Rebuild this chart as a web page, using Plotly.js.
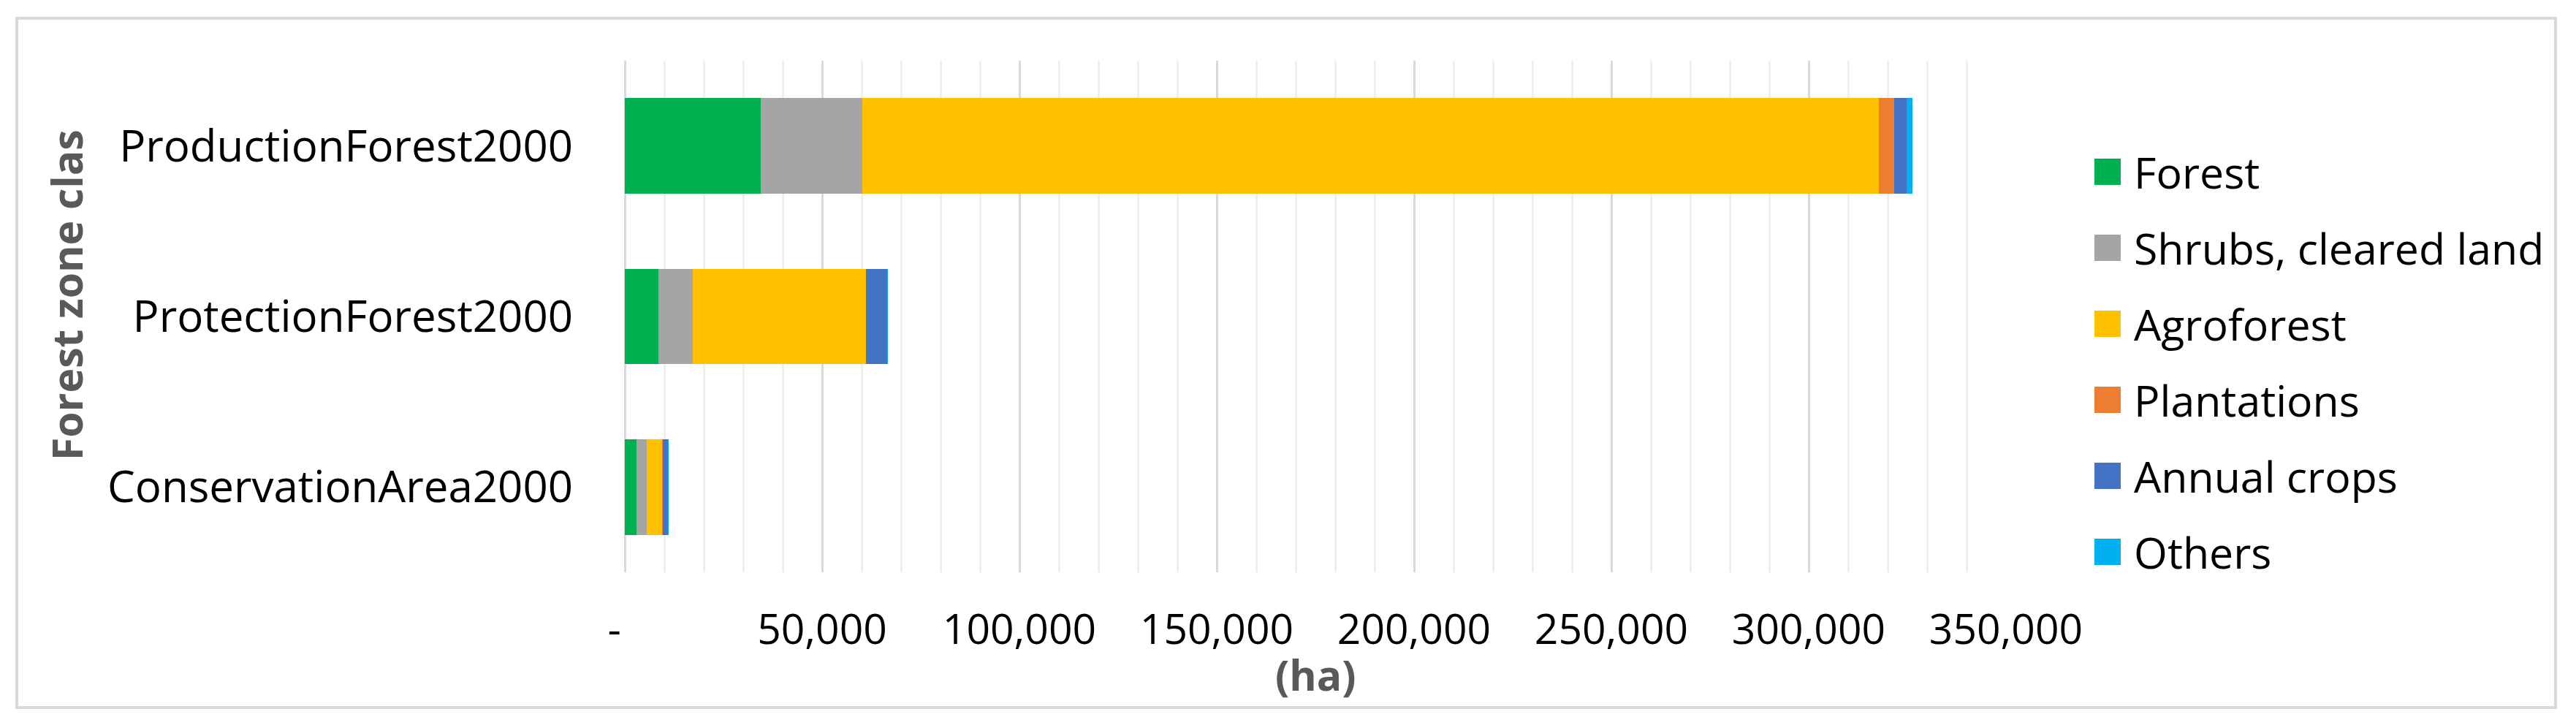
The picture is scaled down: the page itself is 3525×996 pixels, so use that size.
<!DOCTYPE html>
<html>
<head>
<meta charset="utf-8">
<script src="https://cdn.plot.ly/plotly-3.0.1.min.js"></script>
<style>html,body{margin:0;padding:0;background:#fff;}#chart{width:3525px;height:996px;}</style>
</head>
<body>
<div id="chart"></div>
<script>
// ---- data ----
const categories = ['ConservationArea2000', 'ProtectionForest2000', 'ProductionForest2000'];
const seriesNames = ['Forest', 'Shrubs, cleared land', 'Agroforest', 'Plantations', 'Annual crops', 'Others'];
const forest      = [3000, 8600, 34400];
const shrubs      = [2600, 8600, 25700];
const agroforest  = [3800, 44000, 257600];
const plantations = [250, 0, 3900];
const annualCrops = [1200, 5200, 3200];
const others      = [300, 300, 1500];
const tickValues  = [0, 50000, 100000, 150000, 200000, 250000, 300000, 350000];
const tickLabels  = ['-\u2002', '50,000', '100,000', '150,000', '200,000', '250,000', '300,000', '350,000'];
const yTitle = 'Forest zone clas';
const xTitle = '(ha)';

// ---- styling ----
const colors = ['#00B050', '#A5A5A5', '#FFC000', '#ED7D31', '#4472C4', '#00B0F0'];
const values = [forest, shrubs, agroforest, plantations, annualCrops, others];
const FONT = 'Open Sans, sans-serif';
const FS = 57;

const W = 3525, H = 996;
const L = 855, R = 780, T = 83, B = 213;
const PW = W - L - R, PH = H - T - B;
const X = px => (px - L) / PW;
const Y = py => 1 - (py - T) / PH;

const traces = seriesNames.map((name, i) => ({
  type: 'bar',
  orientation: 'h',
  name: name,
  y: categories,
  x: values[i],
  marker: {color: colors[i], line: {width: 0}},
  showlegend: false,
  hoverinfo: 'x+name'
}));

const shapes = [
  {type: 'rect', xref: 'paper', yref: 'paper', x0: X(23), x1: X(3497), y0: Y(968), y1: Y(25),
   line: {color: '#D9D9D9', width: 4}, fillcolor: 'rgba(0,0,0,0)', layer: 'below'}
];
const annotations = [
  {xref: 'paper', yref: 'paper', x: X(91), y: Y(404), text: '<b>' + yTitle + '</b>', textangle: -90,
   showarrow: false, xanchor: 'center', yanchor: 'middle', font: {family: FONT, size: FS, color: '#595959'}},
  {xref: 'paper', yref: 'paper', x: X(1800), y: Y(923), text: '<b>' + xTitle + '</b>',
   showarrow: false, xanchor: 'center', yanchor: 'middle', font: {family: FONT, size: FS, color: '#595959'}}
];
seriesNames.forEach((name, i) => {
  const cy = 235 + i * 104;
  shapes.push({type: 'rect', xref: 'paper', yref: 'paper', x0: X(2866), x1: X(2902), y0: Y(cy + 18), y1: Y(cy - 18),
    line: {width: 0}, fillcolor: colors[i]});
  annotations.push({xref: 'paper', yref: 'paper', x: X(2918), y: Y(cy), text: name, showarrow: false,
    xanchor: 'left', yanchor: 'middle', font: {family: FONT, size: 59, color: '#000000'}});
});

const layout = {
  width: W, height: H,
  margin: {l: L, r: R, t: T, b: B, pad: 0},
  paper_bgcolor: '#ffffff', plot_bgcolor: '#ffffff',
  barmode: 'stack',
  bargap: 0.44,
  showlegend: false,
  font: {family: FONT, size: FS, color: '#000000'},
  xaxis: {
    range: [0, 350000],
    tickmode: 'array', tickvals: tickValues, ticktext: tickLabels,
    ticks: '', ticklabelstandoff: 40,
    tickfont: {family: FONT, size: FS, color: '#000000'},
    showgrid: true, gridcolor: '#D9D9D9', gridwidth: 3,
    zeroline: true, zerolinecolor: '#D9D9D9', zerolinewidth: 3,
    showline: false,
    minor: {tickmode: 'linear', tick0: 0, dtick: 10000, showgrid: true, gridcolor: '#EFEFEF', gridwidth: 3, ticks: ''},
    fixedrange: true
  },
  yaxis: {
    type: 'category',
    ticks: '', ticklabelstandoff: 70,
    tickfont: {family: FONT, size: 60, color: '#000000'},
    showgrid: false, zeroline: false, showline: false,
    fixedrange: true
  },
  shapes: shapes,
  annotations: annotations
};

Plotly.newPlot('chart', traces, layout, {displayModeBar: false, staticPlot: true});
</script>
</body>
</html>
